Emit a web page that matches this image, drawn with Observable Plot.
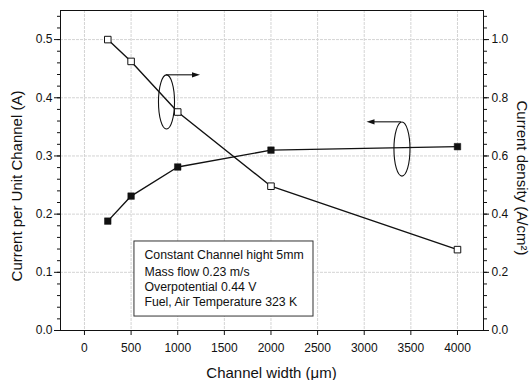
<!DOCTYPE html>
<html>
<head>
<meta charset="utf-8">
<script src="https://cdn.jsdelivr.net/npm/d3@7"></script>
<script src="https://cdn.jsdelivr.net/npm/@observablehq/plot@0.6"></script>
<style>
  body { margin: 0; background: #fff; }
  #chart svg { font-family: "Liberation Sans", Arial, sans-serif; background: #fff; }
</style>
</head>
<body>
<div id="chart"></div>
<script>
// ---- data ----
const channelWidths = [250, 500, 1000, 2000, 4000];           // µm
const currentPerChannel = [0.188, 0.231, 0.281, 0.310, 0.316]; // A (left axis)
const currentDensity = [1.00, 0.925, 0.751, 0.496, 0.278];     // A/cm² (right axis)

const xTicks = [0, 500, 1000, 1500, 2000, 2500, 3000, 3500, 4000];
const yLeftTicks = [0, 0.1, 0.2, 0.3, 0.4, 0.5];
const yRightTicks = [0, 0.2, 0.4, 0.6, 0.8, 1.0];
const yMinorTicks = d3.range(0, 0.5501, 0.02);

const xTitle = "Channel width (μm)";
const yLeftTitle = "Current per Unit Channel (A)";
const yRightTitle = "Current density (A/cm²)";

const infoLines = [
  "Constant Channel hight 5mm",
  "Mass flow 0.23 m/s",
  "Overpotential 0.44 V",
  "Fuel, Air Temperature 323 K"
];

// annotation placement (data units of the left axis)
const ellipses = [
  {cx: 885, cy: 0.392, rx: 86, ry: 0.0465},
  {cx: 3410, cy: 0.311, rx: 86, ry: 0.0465}
];
const arrows = [
  {x1: 879, x2: 1244, y: 0.4386},
  {x1: 3400, x2: 3030, y: 0.3578}
];
const infoBox = {x1: 536, x2: 2456, y1: 0.024, y2: 0.153, tx: 643, ty: [0.129, 0.1005, 0.0745, 0.0487]};

// right axis maps 2:1 onto left axis
const ratio = 2;

const filled = channelWidths.map((x, i) => ({x, y: currentPerChannel[i]}));
const open = channelWidths.map((x, i) => ({x, y: currentDensity[i] / ratio}));
const info = infoLines.map((t, i) => ({t, x: infoBox.tx, y: infoBox.ty[i]}));

const annot = (index, scales) => {
  const g = d3.create("svg:g").attr("fill", "none").attr("stroke", "#111").attr("stroke-width", 1.1);
  for (const e of ellipses) {
    const cx = scales.x(e.cx), cy = scales.y(e.cy);
    g.append("ellipse")
      .attr("cx", cx).attr("cy", cy)
      .attr("rx", Math.abs(scales.x(e.cx + e.rx) - cx))
      .attr("ry", Math.abs(scales.y(e.cy + e.ry) - cy));
  }
  for (const a of arrows) {
    const x1 = scales.x(a.x1), x2 = scales.x(a.x2), y = scales.y(a.y);
    const dir = Math.sign(x2 - x1);
    g.append("line").attr("x1", x1).attr("x2", x2 - dir * 5).attr("y1", y).attr("y2", y);
    g.append("path")
      .attr("d", `M${x2},${y}L${x2 - dir * 8},${y - 2.6}L${x2 - dir * 8},${y + 2.6}Z`)
      .attr("fill", "#111").attr("stroke", "none");
  }
  return g.node();
};

const titles = (index, scales, values, dim) => {
  const {width, height, marginLeft, marginRight, marginTop, marginBottom} = dim;
  const midX = (marginLeft + width - marginRight) / 2;
  const midY = (marginTop + height - marginBottom) / 2;
  const g = d3.create("svg:g").attr("fill", "#111").attr("font-size", 15)
    .attr("text-anchor", "middle").attr("dominant-baseline", "central");
  g.append("text").attr("transform", `translate(${midX},${height - 8})`).text(xTitle);
  g.append("text").attr("transform", `translate(16,${midY + 16}) rotate(-90)`).text(yLeftTitle);
  g.append("text").attr("transform", `translate(${width - 10},${midY + 8}) rotate(90)`).text(yRightTitle);
  return g.node();
};

const chart = Plot.plot({
  width: 532,
  height: 380,
  marginLeft: 60,
  marginRight: 49,
  marginTop: 10,
  marginBottom: 50,
  style: {fontFamily: "'Liberation Sans', Arial, sans-serif", color: "#111"},
  x: {domain: [-257, 4279]},
  y: {domain: [0, 0.55]},
  marks: [
    Plot.gridX(xTicks, {stroke: "#d4d4d4", strokeOpacity: 1, strokeDasharray: "3,1"}),
    Plot.gridY(yLeftTicks.slice(1), {stroke: "#d4d4d4", strokeOpacity: 1, strokeDasharray: "3,1"}),
    // minor ticks
    Plot.axisY(yMinorTicks, {anchor: "left", tickSize: 3, tickFormat: () => "", label: null, stroke: "#111"}),
    Plot.axisY(yMinorTicks, {anchor: "right", tickSize: 3, tickFormat: () => "", label: null, stroke: "#111"}),
    // major axes
    Plot.axisX(xTicks, {tickSize: 5, tickPadding: 8, fontSize: 12, label: null, tickFormat: d => String(d), stroke: "#111"}),
    Plot.axisY(yLeftTicks, {anchor: "left", tickSize: 6, tickPadding: 2, fontSize: 12, label: null, tickFormat: d => d.toFixed(1), stroke: "#111"}),
    Plot.axisY(yRightTicks.map(v => v / ratio), {anchor: "right", tickSize: 5, tickPadding: 3, fontSize: 12, label: null, tickFormat: d => (d * ratio).toFixed(1), stroke: "#111"}),
    // info box
    Plot.rect([infoBox], {x1: "x1", x2: "x2", y1: "y1", y2: "y2", fill: "white", stroke: "#333", strokeWidth: 1}),
    Plot.text(info, {x: "x", y: "y", text: "t", textAnchor: "start", fontSize: 12.3, fill: "#111"}),
    // series
    Plot.line(filled, {x: "x", y: "y", stroke: "#111", strokeWidth: 1.4}),
    Plot.line(open, {x: "x", y: "y", stroke: "#111", strokeWidth: 1.4}),
    Plot.dot(filled, {x: "x", y: "y", symbol: "square", r: 3.7, fill: "#111", stroke: "#111", strokeWidth: 0.5}),
    Plot.dot(open, {x: "x", y: "y", symbol: "square", r: 3.7, fill: "white", stroke: "#111", strokeWidth: 1}),
    annot,
    Plot.frame({stroke: "#111", strokeWidth: 1}),
    titles
  ]
});

document.getElementById("chart").appendChild(chart);
</script>
</body>
</html>
